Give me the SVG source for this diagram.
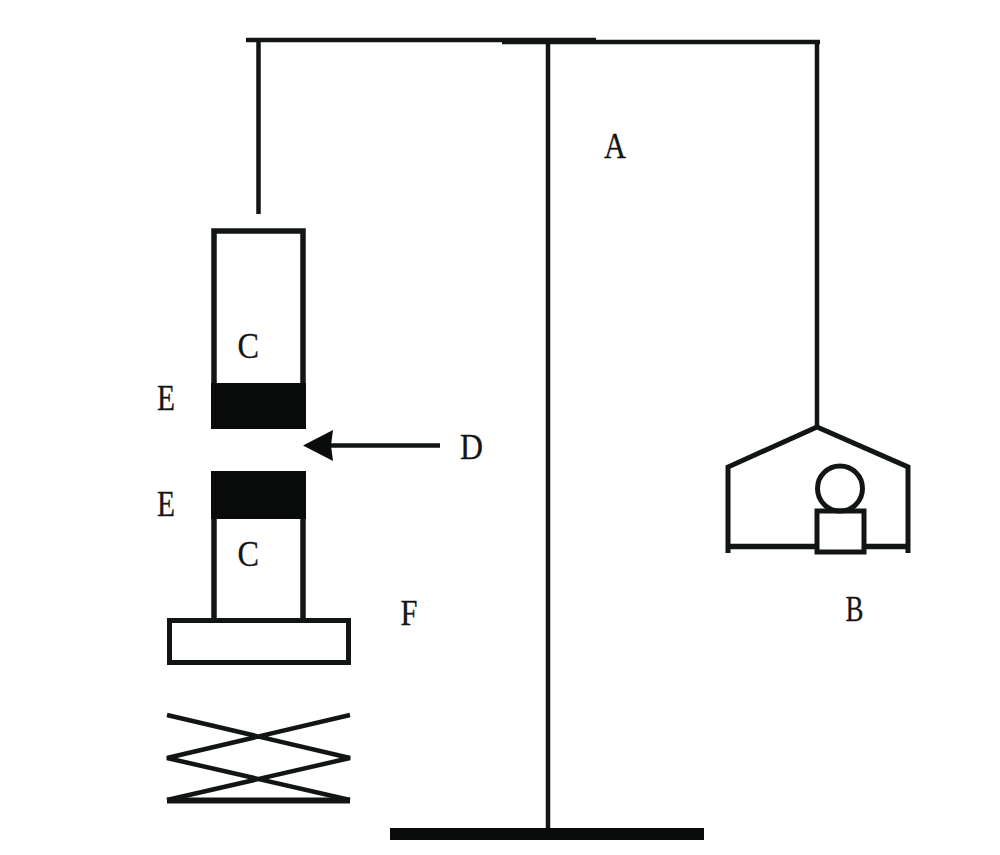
<svg xmlns="http://www.w3.org/2000/svg" width="1000" height="855" viewBox="0 0 1000 855">
<style>
.l{fill:none;stroke:#111614;stroke-width:4.500;stroke-linecap:butt}
.t{stroke-width:5.500}
.k{fill:#0a0c0b}
text{font-family:"Liberation Serif","Times New Roman",serif;font-size:35px;fill:#151515;stroke:#151515;stroke-width:.3}
</style>
<rect width="1000" height="855" fill="#fff"/>
<g id="connectors">
<path class="l" d="M246 40H596M502 42H820"/>
<path class="l" d="M258.500 40V214"/>
<path class="l" d="M548 42V830"/>
<path class="l" d="M817 42V427"/>
<path class="l" d="M330 445.500H440"/>
<polygon class="k" points="303,445.500 333,430 331,445.500 333,461"/>
</g>
<g id="stand-base"><rect class="k" x="390" y="828" width="314" height="12"/></g>
<g id="pan">
<path class="l" style="stroke-width:5" d="M728 553V467L817 427L908 467V553"/>
<path class="l" style="stroke-width:5.500" d="M728 546.500H817M864 546.500H908"/>
<circle class="l" style="stroke-width:5" cx="840" cy="488.500" r="22.500"/>
<rect class="l" style="stroke-width:5" x="817" y="511" width="47" height="41"/>
</g>
<g id="upper-cylinder">
<rect class="l t" x="214" y="231" width="89" height="160"/>
<rect class="k" x="211" y="383" width="95" height="46"/>
</g>
<g id="lower-cylinder">
<path class="l t" d="M214 510V622M303 510V622"/>
<rect class="k" x="211" y="471" width="95" height="48"/>
</g>
<g id="platform"><rect class="l" style="stroke-width:5" x="169.500" y="620.500" width="179" height="42"/></g>
<g id="scissor-jack">
<path class="l" d="M167 715L350 758L167 800M350 715L167 758L350 800"/>
<path class="l" style="stroke-width:6" d="M167 800.500H350"/>
</g>
<g id="labels">
<text x="604" y="158" textLength="22" lengthAdjust="spacingAndGlyphs">A</text>
<text x="845.500" y="621" textLength="18" lengthAdjust="spacingAndGlyphs">B</text>
<text x="237.500" y="358" textLength="21.500" lengthAdjust="spacingAndGlyphs">C</text>
<text x="237.500" y="566" textLength="21.500" lengthAdjust="spacingAndGlyphs">C</text>
<text x="460" y="459" textLength="23" lengthAdjust="spacingAndGlyphs">D</text>
<text x="157" y="410" textLength="18" lengthAdjust="spacingAndGlyphs">E</text>
<text x="157" y="516" textLength="18" lengthAdjust="spacingAndGlyphs">E</text>
<text x="400.500" y="625" textLength="17" lengthAdjust="spacingAndGlyphs">F</text>
</g>
</svg>
